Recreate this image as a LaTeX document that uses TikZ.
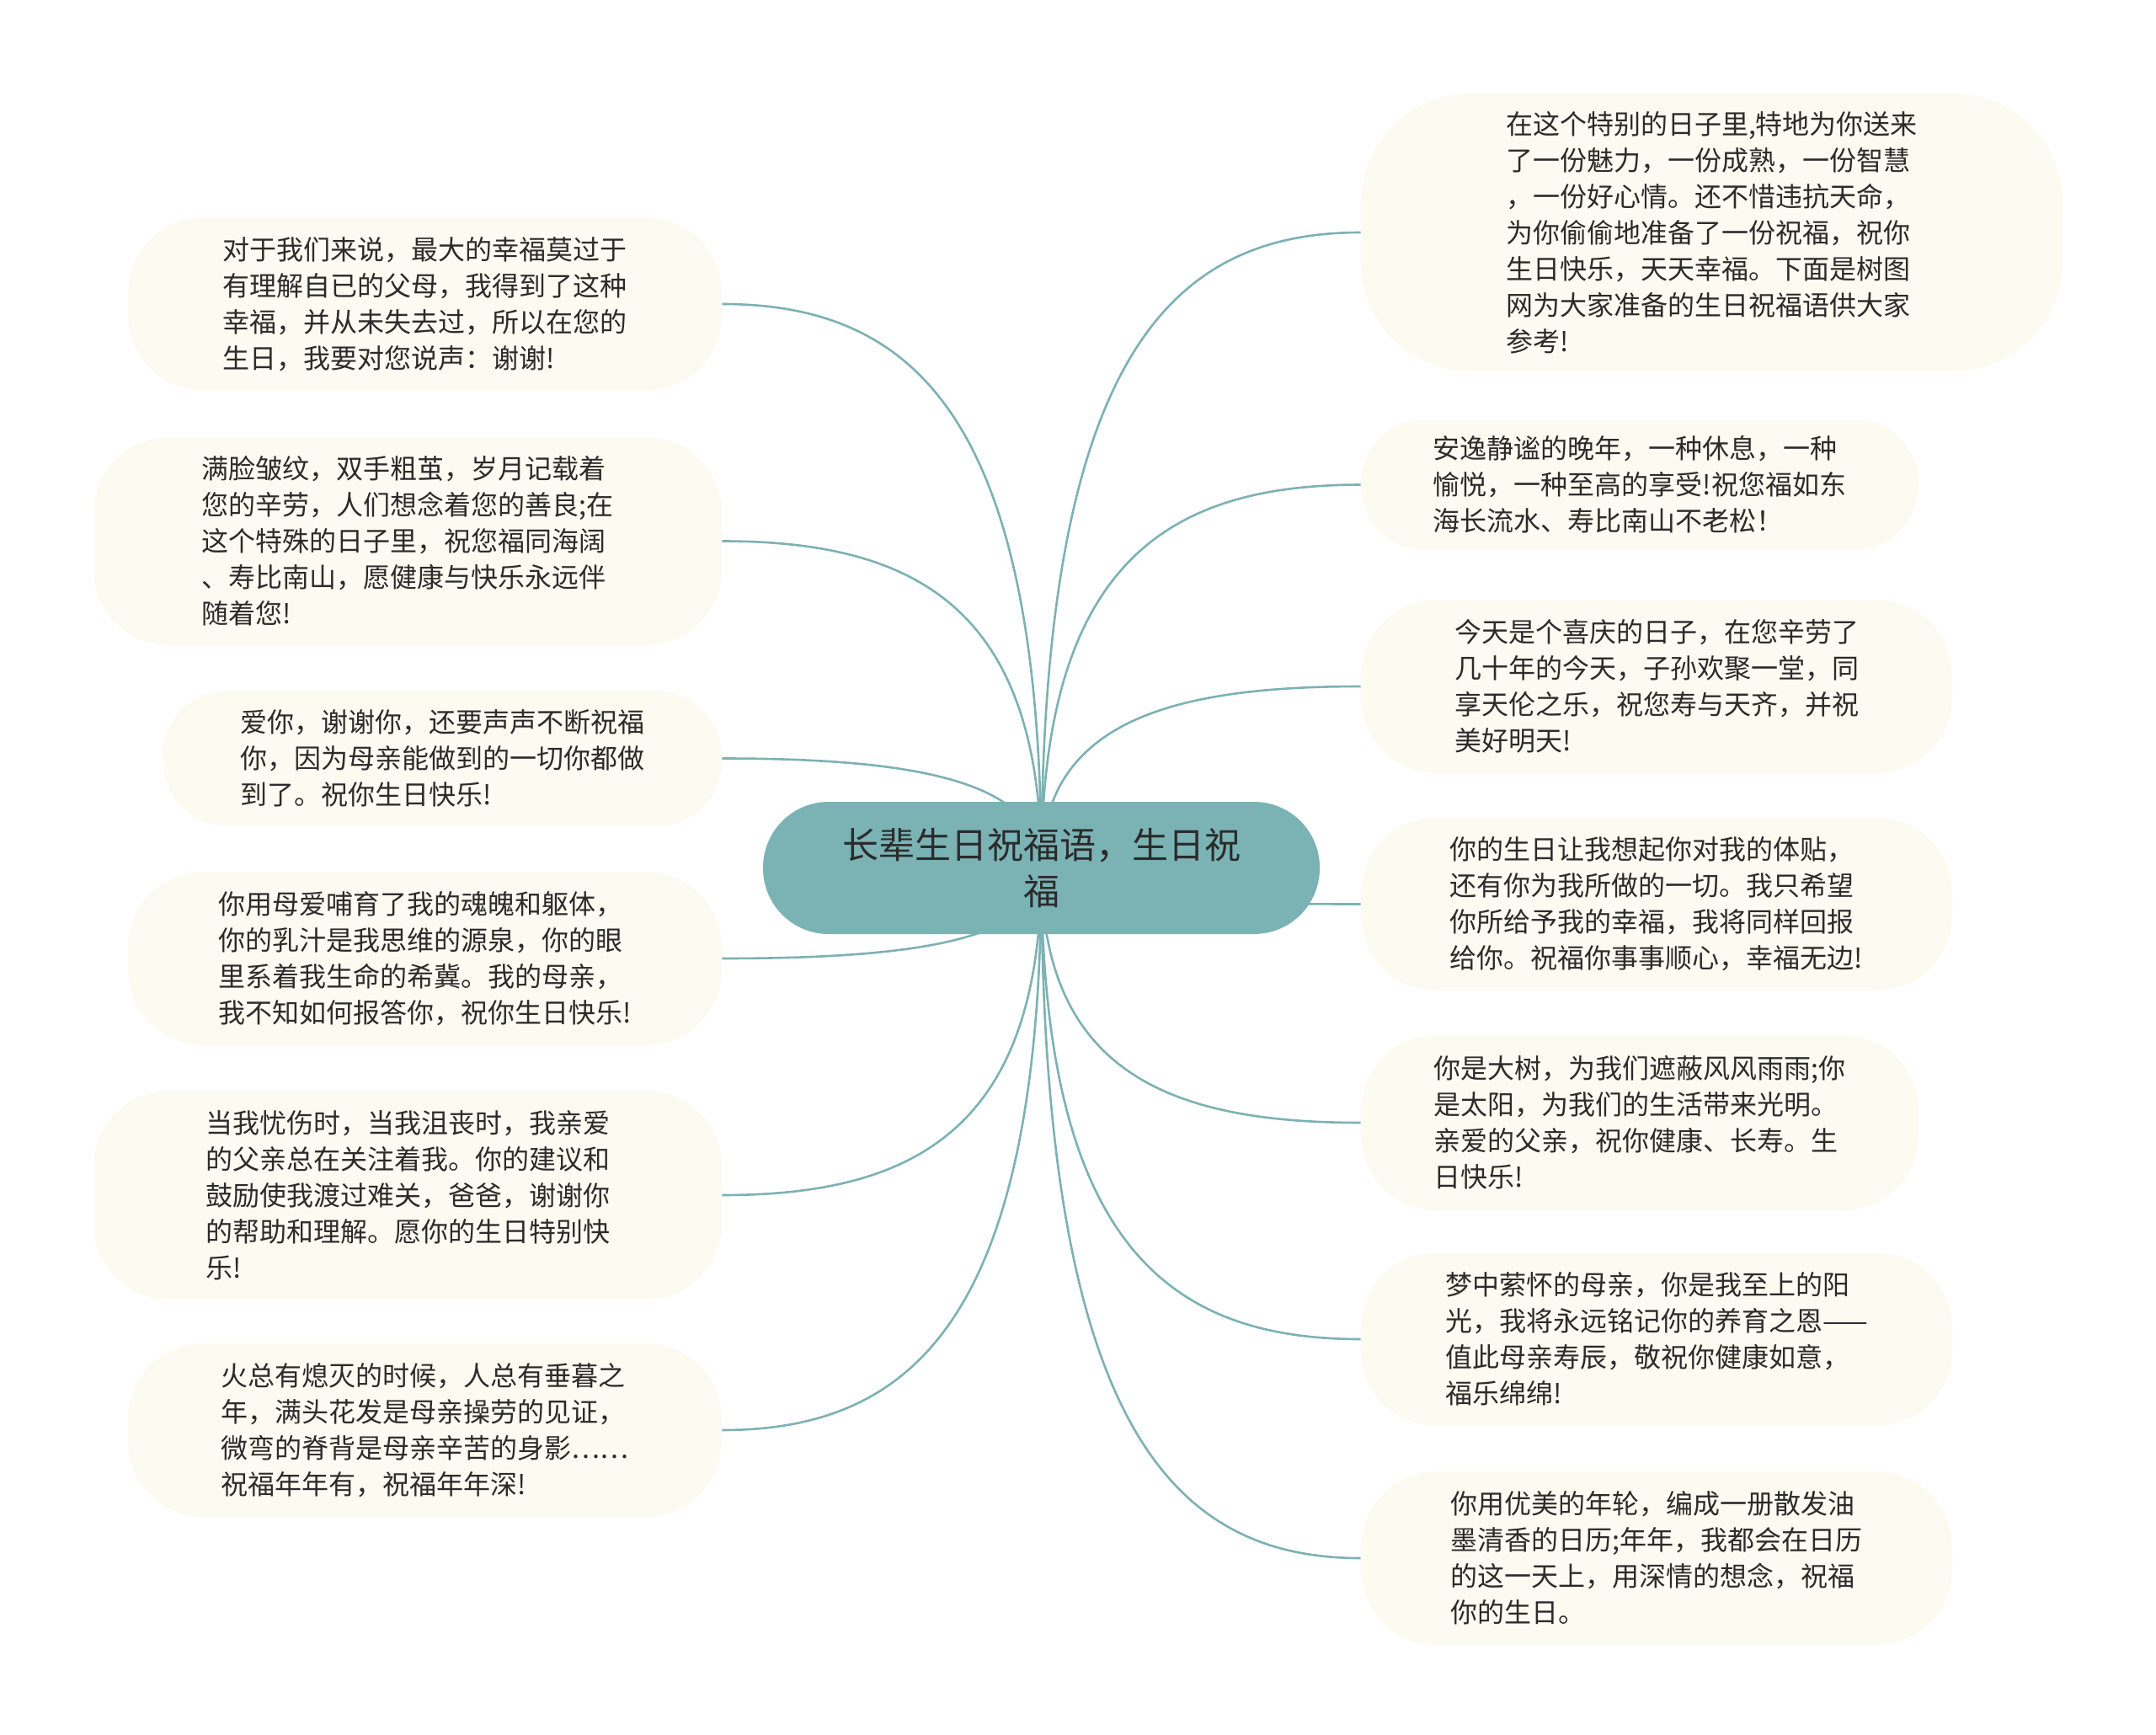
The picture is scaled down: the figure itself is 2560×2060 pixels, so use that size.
\documentclass[tikz,border=0pt]{standalone}
\usepackage{fontspec}
\setmainfont{Noto Sans CJK SC}
\usetikzlibrary{calc}
\pgfdeclarelayer{background}
\pgfsetlayers{background,main}
\definecolor{leaffill}{HTML}{FCFBF1}
\definecolor{rootfill}{HTML}{7BB3B5}
\definecolor{linkcol}{HTML}{7DB1B3}
\definecolor{txtcol}{HTML}{2B2B2B}
\begin{document}
\begin{tikzpicture}[x=0.5pt,y=-0.5pt,
  leaf/.style={fill=leaffill, rounded corners=45pt, inner sep=0pt, align=left,
    text=txtcol, font=\fontsize{16pt}{21.5pt}\selectfont},
  rootbox/.style={fill=rootfill, rounded corners=39pt, inner sep=0pt, align=center,
    text=txtcol, font=\fontsize{21.5pt}{27.75pt}\selectfont,
    minimum width=330.5pt, minimum height=78.5pt},
  link/.style={draw=linkcol, line width=1.3pt}]
\useasboundingbox (0,0) rectangle (2560,2060);

\node[rootbox] (root) at (1236.5,1030.5) {长辈生日祝福语，生日祝\\福};

\node[leaf, minimum width=352.5pt, minimum height=103pt] (L1) at (504.5,361)
  {对于我们来说，最大的幸福莫过于\\有理解自已的父母，我得到了这种\\幸福，并从未失去过，所以在您的\\生日，我要对您说声：谢谢!};
\node[leaf, minimum width=373pt, minimum height=123.5pt] (L2) at (484,642.5)
  {满脸皱纹，双手粗茧，岁月记载着\\您的辛劳，人们想念着您的善良;在\\这个特殊的日子里，祝您福同海阔\\、寿比南山，愿健康与快乐永远伴\\随着您!};
\node[leaf, rounded corners=39pt, minimum width=332pt, minimum height=80.5pt] (L3) at (525,900.5)
  {爱你，谢谢你，还要声声不断祝福\\你，因为母亲能做到的一切你都做\\到了。祝你生日快乐!};
\node[leaf, minimum width=352.5pt, minimum height=103pt] (L4) at (504.5,1138)
  {你用母爱哺育了我的魂魄和躯体，\\你的乳汁是我思维的源泉，你的眼\\里系着我生命的希冀。我的母亲，\\我不知如何报答你，祝你生日快乐!};
\node[leaf, minimum width=373pt, minimum height=124pt] (L5) at (484,1419)
  {当我忧伤时，当我沮丧时，我亲爱\\的父亲总在关注着我。你的建议和\\鼓励使我渡过难关，爸爸，谢谢你\\的帮助和理解。愿你的生日特别快\\乐!};
\node[leaf, minimum width=352.5pt, minimum height=103pt] (L6) at (504.5,1698)
  {火总有熄灭的时候，人总有垂暮之\\年，满头花发是母亲操劳的见证，\\微弯的脊背是母亲辛苦的身影……\\祝福年年有，祝福年年深!};

\node[leaf, rounded corners=65pt, minimum width=416.5pt, minimum height=165pt] (R1) at (2032.5,276)
  {在这个特别的日子里,特地为你送来\\了一份魅力，一份成熟，一份智慧\\，一份好心情。还不惜违抗天命，\\为你偷偷地准备了一份祝福，祝你\\生日快乐，天天幸福。下面是树图\\网为大家准备的生日祝福语供大家\\参考!};
\node[leaf, rounded corners=38pt, minimum width=331pt, minimum height=77.5pt] (R2) at (1947,575.5)
  {安逸静谧的晚年，一种休息，一种\\愉悦，一种至高的享受!祝您福如东\\海长流水、寿比南山不老松！};
\node[leaf, minimum width=351pt, minimum height=103pt] (R3) at (1967,815)
  {今天是个喜庆的日子，在您辛劳了\\几十年的今天，子孙欢聚一堂，同\\享天伦之乐，祝您寿与天齐，并祝\\美好明天!};
\node[leaf, minimum width=351pt, minimum height=103pt] (R4) at (1967,1073.5)
  {你的生日让我想起你对我的体贴，\\还有你为我所做的一切。我只希望\\你所给予我的幸福，我将同样回报\\给你。祝福你事事顺心，幸福无边!};
\node[leaf, minimum width=331pt, minimum height=104pt] (R5) at (1947,1333)
  {你是大树，为我们遮蔽风风雨雨;你\\是太阳，为我们的生活带来光明。\\亲爱的父亲，祝你健康、长寿。生\\日快乐!};
\node[leaf, minimum width=351pt, minimum height=103pt] (R6) at (1967,1590)
  {梦中萦怀的母亲，你是我至上的阳\\光，我将永远铭记你的养育之恩——\\值此母亲寿辰，敬祝你健康如意，\\福乐绵绵!};
\node[leaf, minimum width=351pt, minimum height=103pt] (R7) at (1967,1850)
  {你用优美的年轮，编成一册散发油\\墨清香的日历;年年，我都会在日历\\的这一天上，用深情的想念，祝福\\你的生日。};

\begin{pgfonlayer}{background}
\fill[white] (0,0) rectangle (2560,2060);
\foreach \n in {L1,L2,L3,L4,L5,L6}{
  \draw[link] (root.center) .. controls ($(root.center)!0.8!(root.center |- \n.east)$)
    and ($(\n.east)!0.6!(root.center |- \n.east)$) .. (\n.east);
}
\foreach \n in {R1,R2,R3,R4,R5,R6,R7}{
  \draw[link] (root.center) .. controls ($(root.center)!0.8!(root.center |- \n.west)$)
    and ($(\n.west)!0.6!(root.center |- \n.west)$) .. (\n.west);
}
\end{pgfonlayer}
\end{tikzpicture}
\end{document}
